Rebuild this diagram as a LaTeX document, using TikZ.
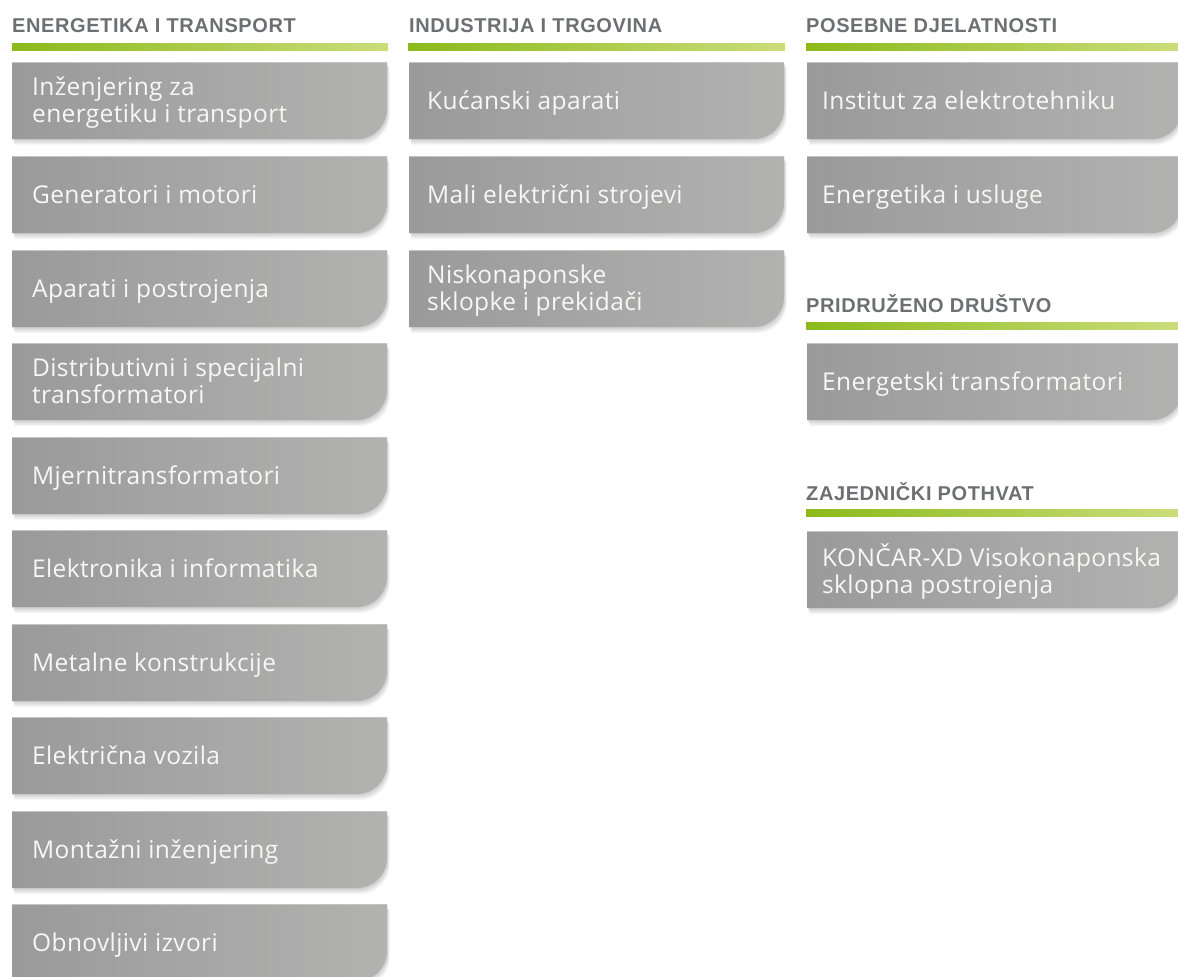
\documentclass[tikz,border=0pt]{standalone}
\usepackage{fontspec}
\setmainfont{Liberation Sans}
\newfontfamily\boxfont[LetterSpace=1.5]{Open Sans}
\newfontfamily\headfont[LetterSpace=3]{Liberation Sans}
\definecolor{hdrc}{HTML}{6E6F72}
\definecolor{gL}{HTML}{8CBA1B}
\definecolor{gR}{HTML}{CADD7A}
\definecolor{bL}{HTML}{9A9A9A}
\definecolor{bR}{HTML}{B2B2B1}
\definecolor{txtc}{HTML}{F7F7F7}
\definecolor{edgec}{HTML}{C4C4C4}
\tikzset{
  btext/.style={inner sep=0pt, anchor=base west, text=txtc, font=\boxfont\fontsize{24.5}{27.5}\selectfont},
  htext/.style={inner sep=0pt, anchor=base west, text=hdrc, font=\headfont\bfseries\fontsize{20}{24}\selectfont},
}
% #1 options, #2 x1, #3 top, #4 x2, #5 bottom
\newcommand\kpath[5]{\path[#1] (#2,#3) -- (#4,#3) -- (#4,#5-30) .. controls (#4,#5-13.4) and (#4-13.4,#5) .. (#4-30,#5) -- (#2,#5) -- cycle;}
% #1 x1, #2 top, #3 x2
\newcommand\kbox[3]{%
  \foreach \i in {1,...,7}{\kpath{fill=black,opacity=0.028,shift={(0.4*\i,0.9*\i)}}{#1}{#2}{#3}{#2+77}}
  \kpath{left color=bL,right color=bR}{#1}{#2}{#3}{#2+77}
  \draw[edgec,line width=1pt] (#1,#2+0.5) -- (#3,#2+0.5);
}
\newcommand\gbar[3]{\shade[left color=gL,right color=gR] (#1,#3) rectangle (#2,#3+7);}
\newcommand\tl[2]{\vtop{\baselineskip=27.5pt\hbox{#1}\hbox{#2}}}
\begin{document}
\begin{tikzpicture}[x=1pt,y=-1pt]
\useasboundingbox (0,0) rectangle (1178,977);
\fill[white] (0,0) rectangle (1178,977);
% headers and bars
\node[htext] (h1) at (12,32) {ENERGETIKA I TRANSPORT};
\node[htext] (h2) at (409,32) {INDUSTRIJA I TRGOVINA};
\node[htext] (h3) at (806,32) {POSEBNE DJELATNOSTI};
\node[htext] (h4) at (806,312) {PRIDRUŽENO DRUŠTVO};
\node[htext] (h5) at (806,500) {ZAJEDNIČKI POTHVAT};
\gbar{12}{388}{43}
\gbar{408}{785}{43}
\gbar{806}{1178}{43}
\gbar{806}{1178}{322}
\gbar{806}{1178}{509}
% column 1
\kbox{12}{62}{387}
\kbox{12}{156}{387}
\kbox{12}{250}{387}
\kbox{12}{343}{387}
\kbox{12}{437}{387}
\kbox{12}{530}{387}
\kbox{12}{624}{387}
\kbox{12}{717}{387}
\kbox{12}{811}{387}
\kbox{12}{904}{387}
\node[btext] (a1) at (32,95) {\tl{Inženjering za}{energetiku i transport}};
\node[btext] (a2) at (32,203) {Generatori i motori};
\node[btext] (a3) at (32,297) {Aparati i postrojenja};
\node[btext] (a4) at (32,376) {\tl{Distributivni i specijalni}{transformatori}};
\node[btext] (a5) at (32,484) {Mjernitransformatori};
\node[btext] (a6) at (32,577) {Elektronika i informatika};
\node[btext] (a7) at (32,671) {Metalne konstrukcije};
\node[btext] (a8) at (32,764) {Električna vozila};
\node[btext] (a9) at (32,858) {Montažni inženjering};
\node[btext] (a10) at (32,951) {Obnovljivi izvori};
% column 2
\kbox{409}{62}{784}
\kbox{409}{156}{784}
\kbox{409}{250}{784}
\node[btext] (b1) at (427,109) {Kućanski aparati};
\node[btext] (b2) at (427,203) {Mali električni strojevi};
\node[btext] (b3) at (427,283) {\tl{Niskonaponske}{sklopke i prekidači}};
% column 3
\kbox{807}{62}{1182}
\kbox{807}{156}{1182}
\kbox{807}{343}{1182}
\kbox{807}{531}{1182}
\node[btext] (c1) at (822,109) {Institut za elektrotehniku};
\node[btext] (c2) at (822,203) {Energetika i usluge};
\node[btext] (c3) at (822,390) {Energetski transformatori};
\node[btext] (c4) at (822,566) {\tl{KONČAR-XD Visokonaponska}{sklopna postrojenja}};
\end{tikzpicture}
\end{document}
